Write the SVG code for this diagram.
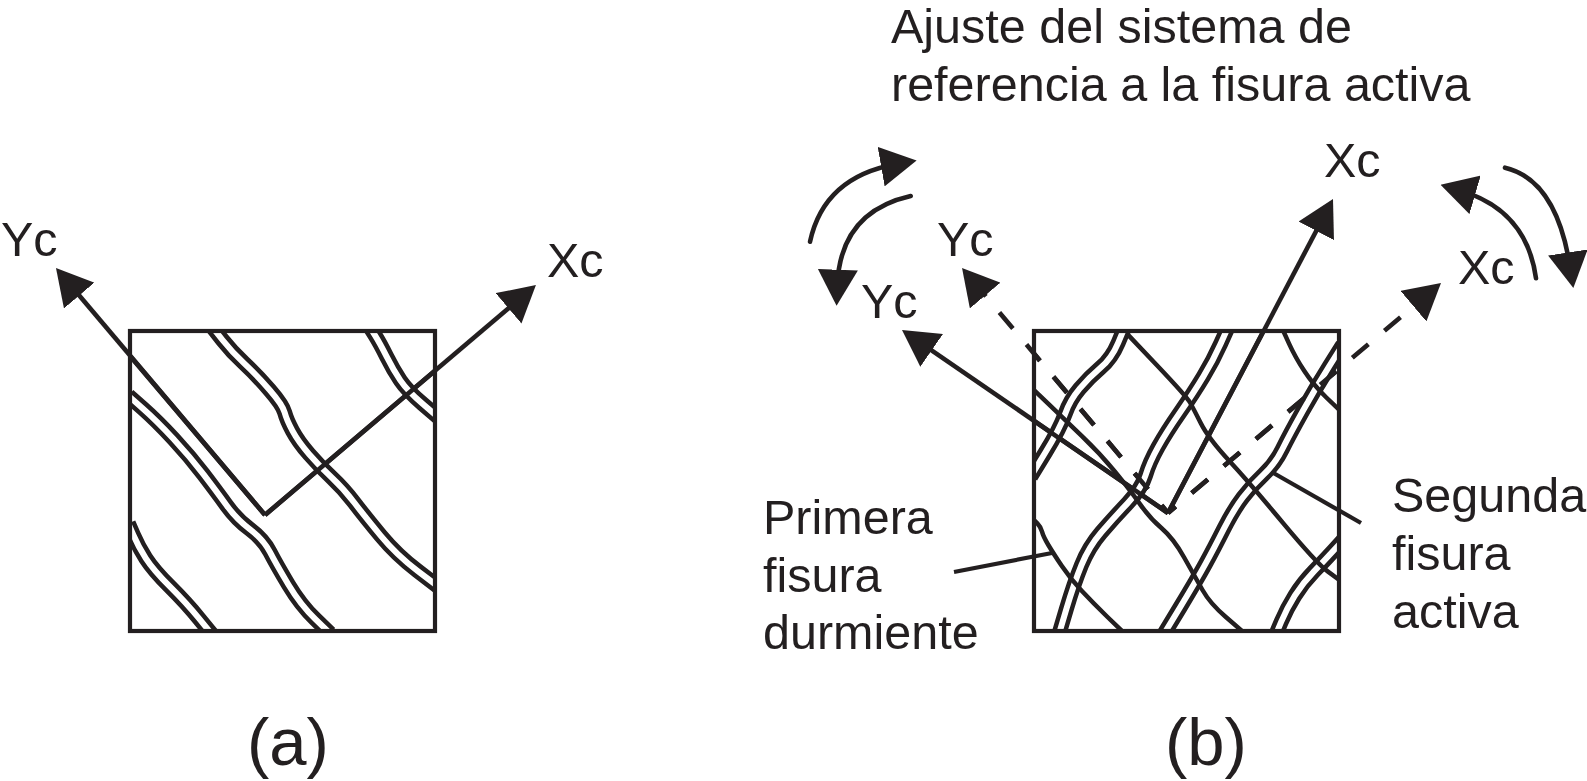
<svg xmlns="http://www.w3.org/2000/svg" width="1587" height="781" viewBox="0 0 1587 781">
<style>
text{font-family:"Liberation Sans",Arial,sans-serif;fill:#231f20;font-size:48.5px}
.p{font-size:67px}
.box{fill:none;stroke:#231f20;stroke-width:4.2}
.ax{fill:none;stroke:#231f20;stroke-width:4.6;marker-end:url(#head)}
.nm{marker-end:none}
.da{stroke-dasharray:21 21;stroke-dashoffset:11}
.arc{fill:none;stroke:#231f20;stroke-width:4.6;stroke-linecap:round;marker-end:url(#head)}
.lead{fill:none;stroke:#231f20;stroke-width:4.2}
.k{fill:none;stroke:#231f20;stroke-width:45;stroke-linejoin:round}
.w{fill:none;stroke:#fff;stroke-width:18;stroke-linejoin:round}
.s{fill:none;stroke:#231f20;stroke-width:13.500;stroke-linejoin:round}
</style>
<defs>
<marker id="head" markerUnits="userSpaceOnUse" markerWidth="36" markerHeight="40" viewBox="0 -20 36 40" refX="16" refY="0" orient="auto"><path d="M0,-20L36,0L0,20Z" fill="#231f20"/></marker>
<clipPath id="ca"><rect x="60" y="62" width="915" height="900"/></clipPath>
<clipPath id="cb"><rect x="42" y="33" width="916" height="899"/></clipPath>
<path id="a1" d="M310,55L337.5,90Q365,125 402.5,160Q440,195 479,240Q518,285 524,307.5Q530,330 547.5,362.5Q565,395 597.5,432.5Q630,470 665,502.5Q700,535 732.5,577.5Q765,620 812.5,677.5Q860,735 922.5,782.5L985,830"/>
<path id="a2" d="M55,257L97.5,294.5Q140,332 190,386Q240,440 280,492.5Q320,545 350,586.5Q380,628 420,658Q460,688 480,726.5Q500,765 536,825Q572,885 616,927.5L660,970"/>
<path id="a3" d="M55,640L70,675Q85,710 107.5,745Q130,780 180,830Q230,880 267.5,926L305,972"/>
<path id="a4" d="M780,52L795,76Q810,100 830,140Q850,180 871,211Q892,242 938.5,282L985,322"/>
<path id="b1" d="M314,22L294.500,68.500Q275,115 241.500,143.500Q208,172 179,206Q150,240 135,282.500Q120,325 76,397.500L32,470"/>
<path id="b2" d="M624,22L602,71Q580,120 550,170Q520,220 480,277.500Q440,335 414,381.500Q388,428 376.500,466.500Q365,505 322.500,550Q280,595 243.500,637.500Q207,680 184.500,735Q162,790 139,867.500L116,945"/>
<path id="b3" d="M968,75L928,138.500Q888,202 848,273.500Q808,345 786.500,388.500Q765,432 731,463.500Q697,495 668.500,532.500Q640,570 611,627.500Q582,685 556,732.500Q530,780 480,862.500L430,945"/>
<path id="b4" d="M968,662L941.500,691Q915,720 882,754Q849,788 824.500,827Q800,866 783.500,905.500L767,945"/>
</defs>
<g id="connectors">
<path class="ax" d="M265,515L68.9,283.3"/>
<path class="ax" d="M265,515L520.7,298"/>
<path class="ax" d="M1168,513L918.5,341.3"/>
<path class="ax" d="M1168,513L1323.7,216.7"/>
<path class="ax da" d="M1168,513L974.9,283.3"/>
<path class="ax da" d="M1168,513L1425.7,295.9"/>
<path class="arc" d="M810,241.7Q824,176.7 896.9,163.9"/>
<path class="arc" d="M910.7,196Q840,212 837.3,285.7"/>
<path class="arc" d="M1536,278.3Q1526.7,210 1459.7,190.4"/>
<path class="arc" d="M1505,167.7Q1556.7,180 1570.3,268.3"/>
<path class="lead" d="M954,572L1052,553"/>
<path class="lead" d="M1273,472.7L1361,523"/>
</g>
<g id="panel-a">
<g transform="translate(110,310) scale(.33333)" clip-path="url(#ca)">
<use href="#a1" class="k"/><use href="#a1" class="w"/>
<use href="#a2" class="k"/><use href="#a2" class="w"/>
<use href="#a3" class="k"/><use href="#a3" class="w"/>
<use href="#a4" class="k"/><use href="#a4" class="w"/>
</g>
<rect class="box" x="130" y="331" width="305" height="300"/>
<path class="ax nm" d="M265,515L130,356"/>
<path class="ax nm" d="M265,515L435,370.700"/>
</g>
<g id="panel-b">
<g transform="translate(1020,320) scale(.33333)" clip-path="url(#cb)">
<use href="#b1" class="k"/><use href="#b1" class="w"/>
<use href="#b2" class="k"/><use href="#b2" class="w"/>
<use href="#b3" class="k"/><use href="#b3" class="w"/>
<use href="#b4" class="k"/><use href="#b4" class="w"/>
<path class="s" d="M320,40L410,135Q500,230 510,247.500Q520,265 542.500,310Q565,355 627.500,422.500Q690,490 790,610Q890,730 924,755L958,780"/>
<path class="s" d="M42,210L86,252.500Q130,295 185,347.500Q240,400 285,455Q330,510 360,552.500Q390,595 425,625Q460,655 492.500,712.500Q525,770 547.500,810Q570,850 617.500,891L665,932"/>
<path class="s" d="M790,33L807.500,71.500Q825,110 852.500,152.500Q880,195 919,232.500L958,270"/>
<path class="s" d="M42,600L52,610Q62,620 66,635Q70,650 85,675Q100,700 125,737.500Q150,775 185,812.500Q220,850 262.500,891L305,932"/>
</g>
<rect class="box" x="1034" y="331" width="305" height="300"/>
<path class="ax nm" d="M1168,513L1034,420.800"/>
<path class="ax nm" d="M1168,513L1264,330"/>
<path class="ax da nm" d="M1168,513L1034,353.600"/>
<path class="ax da nm" d="M1168,513L1339,369"/>
</g>
<g id="labels">
<text x="1" y="256">Yc</text>
<text x="547" y="277">Xc</text>
<text x="1324" y="177">Xc</text>
<text x="1458" y="284">Xc</text>
<text x="937" y="256">Yc</text>
<text x="861" y="318">Yc</text>
<text x="891" y="43">Ajuste del sistema de</text>
<text x="891" y="101">referencia a la fisura activa</text>
<text x="763" y="534">Primera</text>
<text x="763" y="592">fisura</text>
<text x="763" y="649">durmiente</text>
<text x="1392" y="512">Segunda</text>
<text x="1392" y="570">fisura</text>
<text x="1392" y="628">activa</text>
<text class="p" x="247" y="765">(a)</text>
<text class="p" x="1165" y="765">(b)</text>
</g>
</svg>
